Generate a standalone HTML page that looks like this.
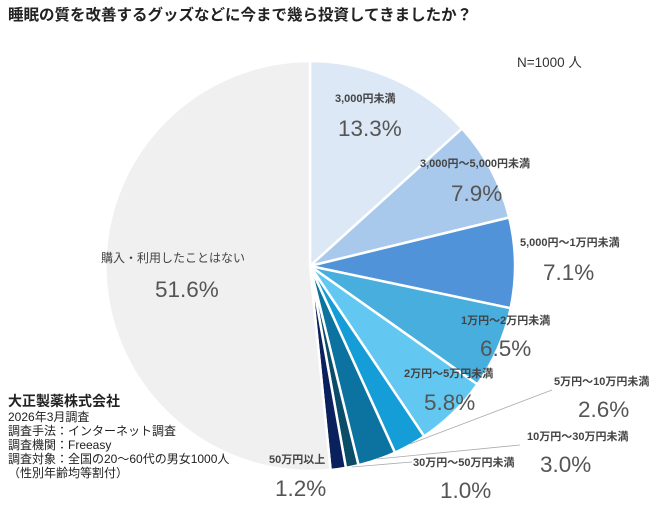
<!DOCTYPE html>
<html><head><meta charset="utf-8"><style>
body{margin:0;background:#fff;width:658px;height:506px;overflow:hidden}
svg text{font-family:"Liberation Sans","Noto Sans CJK JP",sans-serif}
</style></head><body>
<svg width="658" height="506" viewBox="0 0 658 506">
<text x="8" y="20" font-size="15.5" font-weight="bold" fill="#222">睡眠の質を改善するグッズなどに今まで幾ら投資してきましたか？</text>
<text x="517" y="67" font-size="13.5" fill="#333">N=1000 人</text>
<g stroke="#fff" stroke-width="2.5" stroke-linejoin="round">
<path d="M310,266 L310,61 A205,205 0 0 1 462.1,128.5 Z" fill="#dce8f6"/>
<path d="M310,266 L462.1,128.5 A205,205 0 0 1 509.2,217.5 Z" fill="#a8c8ec"/>
<path d="M310,266 L509.2,217.5 A205,205 0 0 1 510.6,308.2 Z" fill="#5093d8"/>
<path d="M310,266 L510.6,308.2 A205,205 0 0 1 477.4,384.4 Z" fill="#47aede"/>
<path d="M310,266 L477.4,384.4 A205,205 0 0 1 424.2,436.3 Z" fill="#62c8f2"/>
<path d="M310,266 L424.2,436.3 A205,205 0 0 1 395.0,452.6 Z" fill="#149dd6"/>
<path d="M310,266 L395.0,452.6 A205,205 0 0 1 358.5,465.2 Z" fill="#0c72a0"/>
<path d="M310,266 L358.5,465.2 A205,205 0 0 1 345.9,467.8 Z" fill="#0a4d68"/>
<path d="M310,266 L345.9,467.8 A205,205 0 0 1 330.6,470.0 Z" fill="#0b215e"/>
<path d="M310,266 L330.6,470.0 A205,205 0 1 1 310,61 Z" fill="#f0f0f0"/>
</g>
<g fill="#444" font-size="11" font-weight="bold">
<text x="335" y="102">3,000円未満</text>
<text x="420" y="167">3,000円〜5,000円未満</text>
<text x="520" y="246">5,000円〜1万円未満</text>
<text x="461" y="324">1万円〜2万円未満</text>
<text x="404" y="377">2万円〜5万円未満</text>
<text x="554" y="385">5万円〜10万円未満</text>
<text x="527" y="440">10万円〜30万円未満</text>
<text x="413" y="466">30万円〜50万円未満</text>
<text x="269" y="463">50万円以上</text>
</g>
<text x="101" y="262" font-size="12" fill="#444">購入・利用したことはない</text>
<g fill="#555" font-size="22.5">
<text x="338" y="136">13.3%</text>
<text x="451" y="201">7.9%</text>
<text x="543" y="280">7.1%</text>
<text x="480" y="356">6.5%</text>
<text x="424" y="410">5.8%</text>
<text x="578" y="417">2.6%</text>
<text x="540" y="472">3.0%</text>
<text x="440" y="498">1.0%</text>
<text x="275" y="496">1.2%</text>
<text x="155" y="297">51.6%</text>
</g>
<g stroke="#aaa" stroke-width="0.8" fill="none">
<polyline points="410,444 552,390"/>
<polyline points="377,459 520,445"/>
<polyline points="352,467 412,462"/>
</g>
<text x="8" y="406" font-size="14" font-weight="bold" fill="#222">大正製薬株式会社</text>
<g font-size="12" fill="#222">
<text x="8" y="421">2026年3月調査</text>
<text x="8" y="435">調査手法：インターネット調査</text>
<text x="8" y="449">調査機関：Freeasy</text>
<text x="8" y="463">調査対象：全国の20～60代の男女1000人</text>
<text x="8" y="477">（性別年齢均等割付）</text>
</g>
</svg>
</body></html>
